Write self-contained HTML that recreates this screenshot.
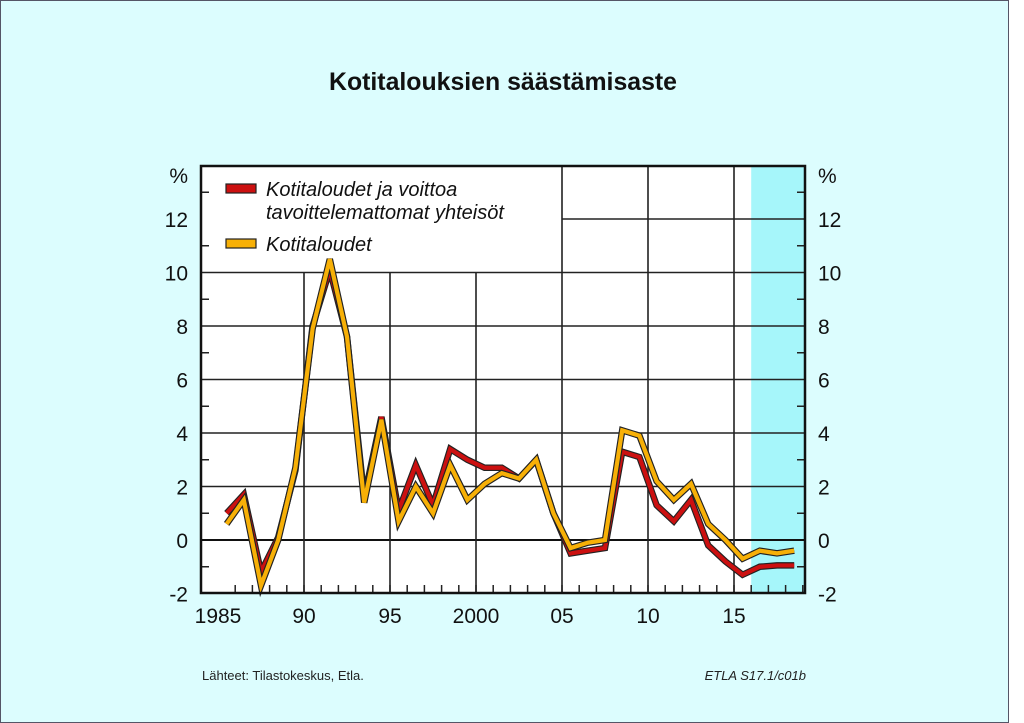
<!DOCTYPE html>
<html><head><meta charset="utf-8"><style>
html,body{margin:0;padding:0;background:#fff;}
body{width:1024px;height:723px;overflow:hidden;position:relative;font-family:"Liberation Sans",sans-serif;}
#panel{position:absolute;left:0;top:0;width:1007px;height:721px;background:#dcfdfe;border:1px solid #556;}
</style></head><body>
<div id="panel"></div>
<svg width="1024" height="723" style="position:absolute;left:0;top:0">
<text x="503" y="90" text-anchor="middle" font-size="25" font-weight="bold" font-family="Liberation Sans Narrow, Liberation Sans, sans-serif" fill="#111" textLength="348" lengthAdjust="spacingAndGlyphs">Kotitalouksien säästämisaste</text>
<g id="plot"></g>
<text x="202" y="680" font-size="13" fill="#222">Lähteet:   Tilastokeskus, Etla.</text>
<text x="806" y="680" font-size="13" font-style="italic" fill="#222" text-anchor="end">ETLA S17.1/c01b</text>
</svg>
<script>
const years=[1985,1986,1987,1988,1989,1990,1991,1992,1993,1994,1995,1996,1997,1998,1999,2000,2001,2002,2003,2004,2005,2006,2007,2008,2009,2010,2011,2012,2013,2014,2015,2016,2017,2018];
const redValues=[1.0,1.7,-1.2,0.1,2.6,8.0,10.1,7.6,1.6,4.6,1.1,2.8,1.3,3.4,3.0,2.7,2.7,2.3,3.0,1.0,-0.5,-0.4,-0.3,3.3,3.1,1.3,0.7,1.5,-0.2,-0.8,-1.3,-1.0,-0.95,-0.95];
const yellowValues=[0.6,1.5,-1.7,0.0,2.7,7.9,10.5,7.6,1.4,4.5,0.7,2.0,1.0,2.8,1.5,2.1,2.5,2.3,3.0,1.0,-0.3,-0.1,0.0,4.1,3.9,2.2,1.5,2.1,0.6,0.0,-0.7,-0.4,-0.5,-0.4];
const yTicks=[-2,0,2,4,6,8,10,12];
const xTickLabels=[[1985,"1985"],[1990,"90"],[1995,"95"],[2000,"2000"],[2005,"05"],[2010,"10"],[2015,"15"]];
const forecastStart=2016;

const L=201,R=805,T=166,B=593;
const xTick=y=>218+(y-1985)*17.2;
const xPt=y=>xTick(y)+8.6;
const yS=v=>540-v*26.75;
const g=document.getElementById('plot');
const NS='http://www.w3.org/2000/svg';
function mk(t,a,p){const e=document.createElementNS(NS,t);for(const k in a)e.setAttribute(k,a[k]);(p||g).appendChild(e);return e;}
let e;
e=mk('rect',{x:L,y:T,width:R-L,height:B-T,fill:'#fff'});


e=mk('rect',{x:xTick(forecastStart),y:T,width:R-xTick(forecastStart),height:B-T,fill:'#a6f6fa'});


const legR=562,legB=yS(10);
for(let v=2;v<=12;v+=2){const y=yS(v);const x0=(y<legB-1)?legR:L;
 e=mk('line',{x1:x0,x2:R,y1:y,y2:y,stroke:'#222','stroke-width':1.6});
 
 }
e=mk('line',{x1:L,x2:R,y1:yS(0),y2:yS(0),stroke:'#111','stroke-width':2});


for(let yr=1990;yr<=2015;yr+=5){const x=xTick(yr);const y0=(x<legR-1)?legB:T;
 e=mk('line',{x1:x,x2:x,y1:y0,y2:B,stroke:'#222','stroke-width':1.6});
 
 }
for(let yr=1986;yr<=2019;yr++){const x=xTick(yr);if(x>=R)break;
 e=mk('line',{x1:x,x2:x,y1:B,y2:B-8,stroke:'#222','stroke-width':1.5});
 
 }
for(let v=-1;v<=13;v+=2){const y=yS(v);
 e=mk('line',{x1:L,x2:L+8,y1:y,y2:y,stroke:'#222','stroke-width':1.5});
 
 
 e=mk('line',{x1:R,x2:R-8,y1:y,y2:y,stroke:'#222','stroke-width':1.5});
 
 }
function series(vals,col,name){const pts=years.map((y,i)=>xPt(y)+','+yS(vals[i])).join(' ');
 mk('polyline',{points:pts,fill:'none',stroke:'#222','stroke-width':6.5,'stroke-linejoin':'miter'});
 e=mk('polyline',{points:pts,fill:'none',stroke:col,'stroke-width':4.2,'stroke-linejoin':'miter'});
 
 }
series(redValues,'#cc1010','series-households-and-npish');
series(yellowValues,'#f7b007','series-households');
e=mk('rect',{x:L,y:T,width:R-L,height:B-T,fill:'none',stroke:'#111','stroke-width':2.5});


for(const v of yTicks){
 e=mk('text',{x:188,y:yS(v)+8,'text-anchor':'end','font-size':21,fill:'#111'});e.textContent=v;
 
 
 e=mk('text',{x:818,y:yS(v)+8,'font-size':21,fill:'#111'});e.textContent=v;
 
 }
e=mk('text',{x:188,y:183,'text-anchor':'end','font-size':21,fill:'#111'});e.textContent='%';


e=mk('text',{x:818,y:183,'font-size':21,fill:'#111'});e.textContent='%';


for(const [yr,lab] of xTickLabels){
 e=mk('text',{x:xTick(yr),y:623,'text-anchor':'middle','font-size':21,fill:'#111'});e.textContent=lab;
 
 }
function leg(y,col,lines,name){
 e=mk('rect',{x:226,y:y-5,width:30,height:9,fill:col,stroke:'#222','stroke-width':1.2});
 
 
 lines.forEach((t,i)=>{e=mk('text',{x:266,y:y+7+i*23,'font-size':20,'font-style':'italic',fill:'#111'});e.textContent=t;
 
 });}
leg(189,'#cc1010',['Kotitaloudet ja voittoa','tavoittelemattomat yhteisöt'],'legend-households-and-npish');
leg(244,'#f7b007',['Kotitaloudet'],'legend-households');
</script>
</body></html>
